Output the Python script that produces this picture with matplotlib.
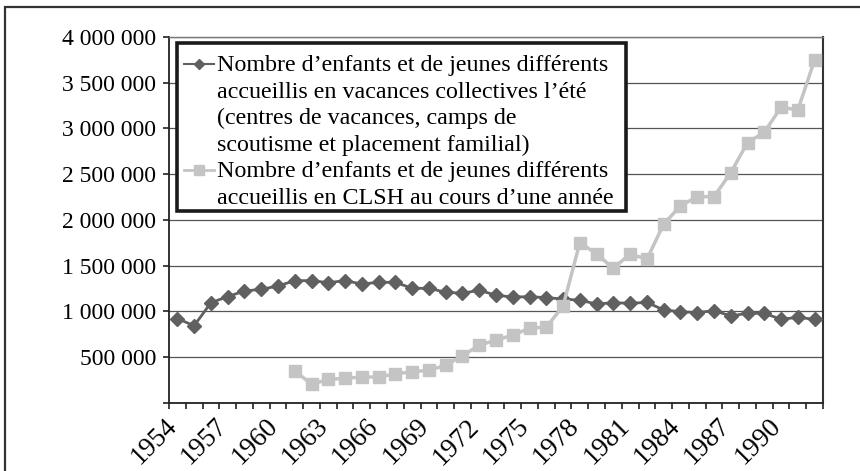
import matplotlib
matplotlib.use('Agg')
import matplotlib.pyplot as plt
from matplotlib.lines import Line2D
from matplotlib.patches import Rectangle
from matplotlib.transforms import ScaledTranslation
import numpy as np

plt.rcParams['font.family'] = ['Liberation Serif', 'DejaVu Serif']

years = list(range(1954, 1993))
vacances = [920000, 842000, 1094000, 1160000, 1222000, 1240000, 1277000,
            1335000, 1335000, 1313000, 1335000, 1298000, 1317000, 1317000,
            1251000, 1251000, 1208000, 1197000, 1230000, 1175000, 1156000,
            1160000, 1149000, 1135000, 1120000, 1080000, 1094000, 1087000,
            1098000, 1014000, 996000, 985000, 1007000, 949000, 978000,
            978000, 912000, 934000, 912000]
clsh = [None] * 7 + [350000, 201000, 256000, 267000, 281000, 281000, 314000,
                     339000, 354000, 409000, 514000, 628000, 686000, 737000,
                     817000, 825000, 1058000, 1750000, 1627000, 1470000,
                     1627000, 1569000, 1955000, 2152000, 2254000, 2254000,
                     2516000, 2845000, 2958000, 3232000, 3202000, 3749000]
label_vac = ["Nombre d\u2019enfants et de jeunes différents",
             "accueillis en vacances collectives l\u2019été",
             "(centres de vacances, camps de",
             "scoutisme et placement familial)"]
label_clsh = ["Nombre d\u2019enfants et de jeunes différents",
              "accueillis en CLSH au cours d\u2019une année"]
yticks = [0, 500000, 1000000, 1500000, 2000000, 2500000, 3000000, 3500000, 4000000]

W, H = 860, 471
fig = plt.figure(figsize=(W / 100, H / 100), dpi=100)
ax = fig.add_axes([169 / W, (H - 402.7) / H, (823 - 169) / W, (402.7 - 37) / H])

x = np.arange(len(years))
c_vac = '#606060'
c_clsh = '#c4c4c4'
y_clsh = np.array([np.nan if v is None else v for v in clsh], dtype=float)
ax.plot(x, vacances, color=c_vac, lw=2, marker='D', ms=7, zorder=3)
ax.plot(x, y_clsh, color=c_clsh, lw=2.5, marker='s', ms=8, zorder=4)

ax.set_xlim(-0.5, len(years) - 0.5)
ax.set_ylim(0, 4000000)
ax.set_yticks(yticks)
ax.set_yticklabels(['' if v == 0 else f"{v:,.0f}".replace(',', ' ') for v in yticks],
                   fontsize=17)
ax.grid(axis='y', color='#555555', lw=0.9)
ax.set_axisbelow(True)

ax.set_xticks(x[::3])
ax.set_xticklabels([str(y) for y in years[::3]], rotation=45, ha='right',
                   va='top', rotation_mode='anchor', fontsize=19.5)
ax.set_xticks(np.arange(-0.5, len(years), 1), minor=True)
ax.tick_params(axis='x', which='major', length=0, pad=8)
ax.tick_params(axis='x', which='minor', length=4.3, width=1.2, direction='out', color='#222')
ax.tick_params(axis='y', length=4.3, width=1.2, direction='out', pad=5, color='#222')
shift = ScaledTranslation(-13 / 100, 0, fig.dpi_scale_trans)
for lab in ax.get_xticklabels():
    lab.set_transform(lab.get_transform() + shift)

for s in ['left', 'bottom']:
    ax.spines[s].set_color('#222222')
    ax.spines[s].set_linewidth(1.3)
ax.spines['right'].set_color('#333333')
ax.spines['right'].set_linewidth(1.5)
ax.spines['top'].set_color('#777777')
ax.spines['top'].set_linewidth(1.0)

def fx(px):
    return px / W

def fy(py):
    return 1 - py / H

# outer frame (only left/top visible)
fig.add_artist(Rectangle((fx(5), fy(500)), 2, fy(7) - fy(500), transform=fig.transFigure,
                         fill=False, edgecolor='#333333', lw=1.6, zorder=1))

# legend
fig.add_artist(Rectangle((fx(177), fy(211)), fx(626) - fx(177), fy(43) - fy(211),
                         transform=fig.transFigure, facecolor='white',
                         edgecolor='#1a1a1a', lw=2.6, zorder=5))
baselines = [71, 97.5, 124, 150.5, 177, 203.5]
lines = label_vac + label_clsh
for t, b in zip(lines, baselines):
    fig.text(fx(217), fy(b), t, va='baseline', ha='left', fontsize=17.3, zorder=6)
for (col, mk, ms, lw), b in zip([(c_vac, 'D', 5, 1.5), (c_clsh, 's', 7, 2)],
                                [baselines[0], baselines[4]]):
    yy = fy(b - 7)
    fig.add_artist(Line2D([fx(184), fx(199), fx(214)], [yy, yy, yy], color=col, lw=lw,
                          marker=mk, ms=ms, markevery=[1], transform=fig.transFigure,
                          zorder=6))

fig.savefig('out.png', dpi=100)
